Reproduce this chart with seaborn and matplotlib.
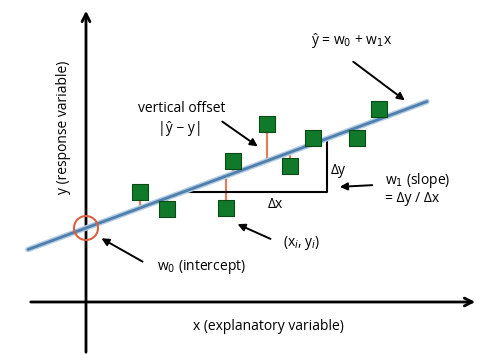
import numpy as np
import pandas as pd
import matplotlib
matplotlib.use("Agg")
import matplotlib.pyplot as plt
import seaborn as sns
from matplotlib.patches import Circle

# ---- data (arbitrary units, origin at axis crossing) ----
point_x = [5.4, 8.1, 14.7, 14.0, 18.1, 20.4, 22.7, 27.1, 29.3]
point_y = [11.0, 9.3, 14.1, 9.4, 17.8, 13.6, 16.4, 16.4, 19.3]
w0 = 7.4          # intercept
w1 = 0.371        # slope
line_x = [-5.8, 34.1]
tri_x = [9.7, 24.1]   # delta triangle x-range

sns.set_theme(style="white")
plt.rcParams['font.family'] = ['Open Sans', 'DejaVu Sans']
plt.rcParams['text.color'] = 'black'

fig = plt.figure(figsize=(4.89, 3.58), dpi=100)
ax = fig.add_axes([0, 0, 1, 1])
ax.set_xlim(-8.6, 40.3)
ax.set_ylim(-5.6, 30.2)
ax.axis('off')

# axes with arrows
ax.annotate('', xy=(39.2, 0), xytext=(-5.8, 0),
            arrowprops=dict(arrowstyle='->', lw=2, color='black', mutation_scale=14))
ax.annotate('', xy=(0, 29.4), xytext=(0, -5.3),
            arrowprops=dict(arrowstyle='->', lw=2, color='black', mutation_scale=14))

# regression line
lx = np.array(line_x)
ly = w0 + w1 * lx
df_line = pd.DataFrame({'x': lx, 'y': ly})
sns.lineplot(data=df_line, x='x', y='y', ax=ax, color='#b4cde2', lw=4.0, zorder=3)
sns.lineplot(data=df_line, x='x', y='y', ax=ax, color='#4f7fad', lw=2.0, zorder=4)

# vertical offsets
for px, py in zip(point_x, point_y):
    ax.plot([px, px], [py, w0 + w1 * px], color='#e0805e', lw=1.6, zorder=2)

# delta triangle
tx0, tx1 = tri_x
ax.plot([tx0, tx1, tx1], [w0 + w1 * tx0, w0 + w1 * tx0, w0 + w1 * tx1],
        color='black', lw=1.5, zorder=2)

# points
df_pts = pd.DataFrame({'x': point_x, 'y': point_y})
sns.scatterplot(data=df_pts, x='x', y='y', ax=ax, marker='s', s=140,
                color='#117a2a', edgecolor='#0a4a17', linewidth=0.8, zorder=5)

# intercept circle
ax.add_patch(Circle((0, w0), 1.2, fill=False, ec='#d9603f', lw=1.5, zorder=6))

ax.set_xlabel('')
ax.set_ylabel('')

fs = 10
tc = 'black'
arrow_kw = dict(arrowstyle='-|>', lw=1.4, color='black', mutation_scale=11)

ax.text(26.6, 26.2, r'ŷ = w$_0$ + w$_1$x', ha='center', va='center', fontsize=fs, color=tc)
ax.annotate('', xy=(32.1, 20.0), xytext=(26.5, 24.2), arrowprops=arrow_kw)

ax.text(9.6, 19.4, 'vertical offset', ha='center', va='center', fontsize=fs, color=tc)
ax.text(9.4, 17.4, '|ŷ − y|', ha='center', va='center', fontsize=fs, color=tc)
ax.annotate('', xy=(17.4, 15.4), xytext=(13.4, 18.2), arrowprops=arrow_kw)

ax.text(18.9, 9.8, 'Δx', ha='center', va='center', fontsize=fs, color=tc)
ax.text(25.2, 13.1, 'Δy', ha='center', va='center', fontsize=fs, color=tc)

ax.text(29.9, 12.2, r'w$_1$ (slope)', ha='left', va='center', fontsize=fs, color=tc)
ax.text(29.9, 10.4, '= Δy / Δx', ha='left', va='center', fontsize=fs, color=tc)
ax.annotate('', xy=(25.1, 11.5), xytext=(28.9, 11.7), arrowprops=arrow_kw)

ax.text(21.6, 5.9, r'(x$_i$, y$_i$)', ha='center', va='center', fontsize=fs, color=tc)
ax.annotate('', xy=(14.9, 7.9), xytext=(18.7, 6.2), arrowprops=arrow_kw)

ax.text(7.1, 3.5, r'w$_0$ (intercept)', ha='left', va='center', fontsize=fs, color=tc)
ax.annotate('', xy=(1.3, 6.5), xytext=(5.9, 3.9), arrowprops=arrow_kw)

ax.text(18.2, -2.5, 'x (explanatory variable)', ha='center', va='center', fontsize=fs, color=tc)
ax.text(-2.2, 17.5, 'y (response variable)', ha='center', va='center', rotation=90, fontsize=fs, color=tc)

fig.savefig('out.png', dpi=100)
